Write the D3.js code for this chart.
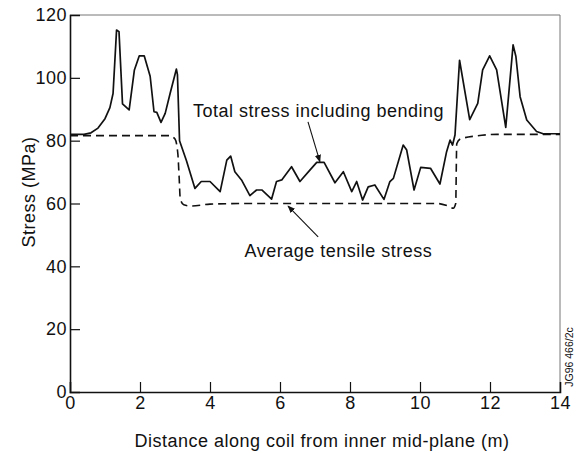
<!DOCTYPE html>
<html>
<head>
<meta charset="utf-8">
<script src="https://cdn.jsdelivr.net/npm/d3@7"></script>
<style>
	body { margin: 0; background: #fff; }
	svg text { font-family: "Liberation Sans", Arial, Helvetica, sans-serif; fill: #111; }
</style>
</head>
<body>
<div id="chart"></div>
<script>
// total stress including bending
var totalX = [0, 0.4, 0.6, 0.8, 1.0, 1.14, 1.23, 1.33, 1.4, 1.5, 1.69, 1.84, 1.98, 2.12, 2.29, 2.4, 2.48, 2.6, 2.72, 2.86,
	3.04, 3.07, 3.13, 3.33, 3.57, 3.75, 4.0, 4.29, 4.48, 4.59, 4.71, 4.9, 5.14, 5.33, 5.48, 5.76, 5.9, 6.05, 6.33, 6.57,
	6.86, 7.05, 7.26, 7.57, 7.81, 8.05, 8.19, 8.36, 8.52, 8.71, 8.97, 9.14, 9.24, 9.52, 9.62, 9.83, 10.02, 10.3, 10.57, 10.76,
	10.86, 10.93, 11.0, 11.13, 11.42, 11.65, 11.79, 11.99, 12.19, 12.45, 12.66, 12.74, 12.86, 13.05, 13.33, 13.52, 14];
var totalY = [82, 82, 82.5, 84, 87, 90.5, 95, 115.2, 114.7, 91.7, 89.8, 102.5, 107, 107, 100.5, 89.2, 89, 85.8, 88.7, 95,
	102.8, 101, 80, 73.5, 64.8, 67, 67, 63.8, 73.8, 75.1, 70.1, 67.5, 62.5, 64.3, 64.3, 61.4, 67, 67.5, 71.7, 67,
	70.7, 73.1, 73.1, 66.6, 70.1, 63.8, 67, 61.1, 65.3, 65.9, 61.3, 67, 68, 78.6, 77, 64.3, 71.5, 71.2, 66.2, 76.5,
	80.2, 78.6, 81.8, 105.6, 86.7, 91.9, 102.5, 107, 102.5, 84.2, 110.5, 106.8, 94, 86.6, 82.9, 82.2, 82.2];

// average tensile stress
var avgX = [0, 2.85, 3.0, 3.08, 3.12, 3.15, 3.25, 3.45, 4.0, 5.0, 10.5, 10.8, 10.95, 11.02, 11.05, 11.15, 11.6, 12.2, 14];
var avgY = [81.6, 81.6, 80.5, 76, 68, 61.5, 59.6, 59.2, 59.8, 60, 60, 59.2, 58.5, 60, 79, 80.5, 81.5, 82, 82];

var xTicks = [0, 2, 4, 6, 8, 10, 12, 14];
var yTicks = [0, 20, 40, 60, 80, 100, 120];

var notes = [
	{ text: "Total stress including bending", x: 7.1, y: 87.6, from: [6.8, 86], to: [7.14, 73.3] },
	{ text: "Average tensile stress", x: 7.67, y: 43.1, from: [7.09, 49.4], to: [6.23, 59.2] }
];

var W = 578, H = 453;
var m = { left: 70, right: 18, top: 15, bottom: 61 };

var svg = d3.select("#chart").append("svg")
	.attr("width", W)
	.attr("height", H);

var x = d3.scaleLinear().domain([0, 14]).range([m.left, W - m.right]);
var y = d3.scaleLinear().domain([0, 120]).range([H - m.bottom, m.top]);

var defs = svg.append("defs");
defs.append("marker")
	.attr("id", "arr")
	.attr("viewBox", "0 0 10 10")
	.attr("refX", 9).attr("refY", 5)
	.attr("markerWidth", 7).attr("markerHeight", 7)
	.attr("orient", "auto")
	.append("path")
	.attr("d", "M0,1 L10,5 L0,9 Z")
	.attr("fill", "#111");

// frame top/right
svg.append("path")
	.attr("d", "M" + x(0) + "," + y(120) + "H" + x(14) + "V" + y(0))
	.attr("fill", "none")
	.attr("stroke", "#777")
	.attr("stroke-width", 1);

// axes with inward ticks
var xAxis = svg.append("g")
	.attr("transform", "translate(0," + y(0) + ")")
	.call(d3.axisBottom(x).tickValues(xTicks).tickSize(-10).tickPadding(4).tickFormat(d3.format("d")));
var yAxis = svg.append("g")
	.attr("transform", "translate(" + x(0) + ",0)")
	.call(d3.axisLeft(y).tickValues(yTicks).tickSize(-10).tickPadding(3).tickFormat(d3.format("d")));

[xAxis, yAxis].forEach(function(a) {
	a.select(".domain").attr("stroke", "#111").attr("stroke-width", 1.6);
	a.selectAll(".tick line").attr("stroke", "#111").attr("stroke-width", 1.2);
	a.selectAll(".tick text").style("font-size", "18px").style("letter-spacing", "0.5px").attr("fill", "#111");
});
xAxis.selectAll(".tick").filter(function(d) { return d == 0 || d == 14; }).select("line").remove();
yAxis.selectAll(".tick").filter(function(d) { return d == 0 || d == 120; }).select("line").remove();

var line = d3.line()
	.x(function(d) { return x(d[0]); })
	.y(function(d) { return y(d[1]); });

var avg = avgX.map(function(v, i) { return [v, avgY[i]]; });
var tot = totalX.map(function(v, i) { return [v, totalY[i]]; });

svg.append("path")
	.attr("d", line.curve(d3.curveMonotoneX)(avg))
	.attr("fill", "none")
	.attr("stroke", "#111")
	.attr("stroke-width", 1.6)
	.attr("stroke-dasharray", "8,5");

svg.append("path")
	.attr("d", line.curve(d3.curveLinear)(tot))
	.attr("fill", "none")
	.attr("stroke", "#111")
	.attr("stroke-width", 1.7)
	.attr("stroke-linejoin", "round");

// annotations
notes.forEach(function(n) {
	svg.append("text")
		.attr("x", x(n.x)).attr("y", y(n.y))
		.attr("text-anchor", "middle")
		.style("font-size", "18px")
		.style("letter-spacing", "0.5px")
		.text(n.text);
	svg.append("line")
		.attr("x1", x(n.from[0])).attr("y1", y(n.from[1]))
		.attr("x2", x(n.to[0])).attr("y2", y(n.to[1]))
		.attr("stroke", "#111")
		.attr("stroke-width", 1.1)
		.attr("marker-end", "url(#arr)");
});

// axis titles
svg.append("text")
	.attr("x", 322)
	.attr("y", 447)
	.attr("text-anchor", "middle")
	.style("font-size", "18px")
	.style("letter-spacing", "0.5px")
	.text("Distance along coil from inner mid-plane (m)");

svg.append("text")
	.attr("transform", "translate(35,192) rotate(-90)")
	.attr("text-anchor", "middle")
	.style("font-size", "18px")
	.style("letter-spacing", "0.5px")
	.text("Stress (MPa)");

svg.append("text")
	.attr("transform", "translate(573,357) rotate(-90)")
	.attr("text-anchor", "middle")
	.style("font-size", "10.5px")
	.text("JG96 466/2c");
</script>
</body>
</html>
